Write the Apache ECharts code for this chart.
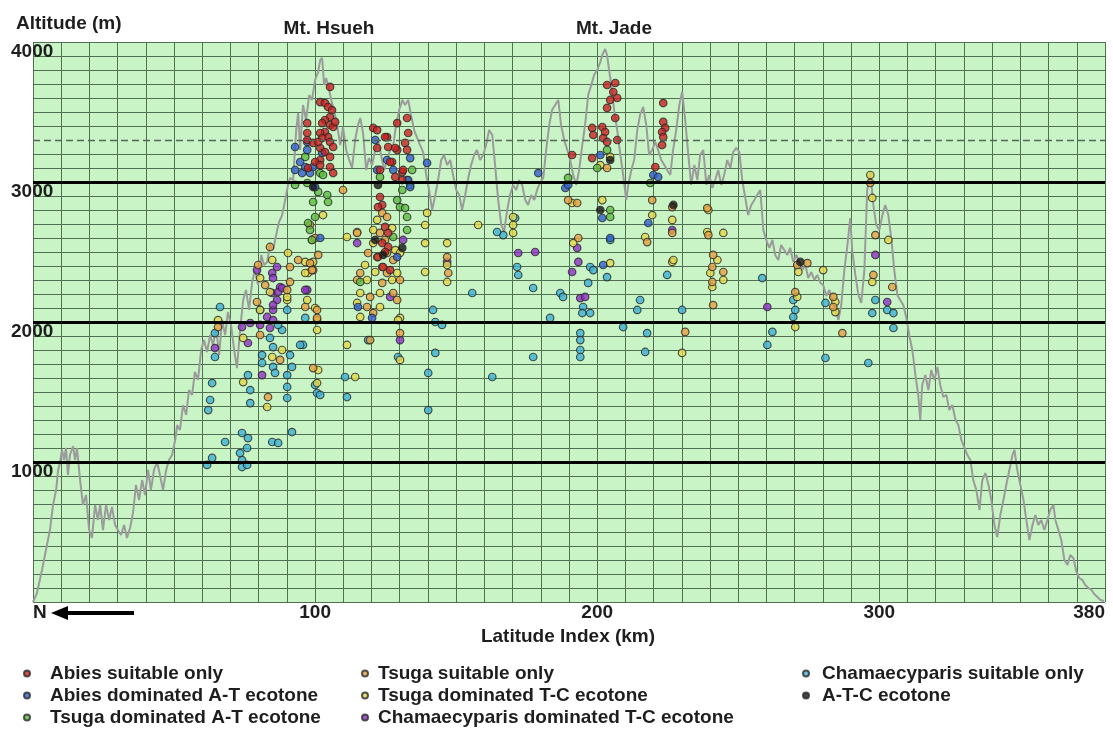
<!DOCTYPE html>
<html>
<head>
<meta charset="utf-8">
<script src="https://cdn.jsdelivr.net/npm/echarts@6/dist/echarts.min.js"></script>
<style>
  html, body { margin: 0; padding: 0; background: #ffffff; }
  #chart { width: 1113px; height: 742px; }
</style>
</head>
<body>
<div id="chart"></div>
<script>
// Ridge-line elevation profile, north (0 km) to south (380 km)
const profileKm = [
  0,1.4,3.2,4.6,6.0,7.1,8.2,8.9,9.6,10.3,11.0,11.7,12.4,13.1,14.2,14.9,15.6,16.7,17.7,18.8,19.9,20.9,22.0,23.0,23.8,24.8,25.9,27.0,28.0,29.1,
  30.1,31.2,32.3,33.3,34.4,35.5,36.5,37.6,38.7,39.7,40.8,41.8,42.9,44.0,45.0,46.1,47.2,48.2,49.3,50.4,51.1,52.1,53.2,54.3,55.3,56.4,57.4,58.5,59.6,60.6,
  61.7,62.8,63.8,64.9,66.0,67.0,68.1,69.1,70.2,71.3,72.3,73.4,74.5,75.5,76.6,77.7,78.7,79.8,80.9,81.9,83.0,84.0,85.1,86.2,87.2,88.3,89.4,90.4,91.1,92.2,
  93.3,94.0,94.7,95.7,96.8,97.9,98.9,100.0,101.1,101.8,102.5,103.2,103.9,105.0,105.7,106.7,107.8,108.9,109.9,111.0,112.1,113.1,114.2,115.2,116.0,117.0,118.1,119.1,120.2,121.3,
  122.3,123.4,124.5,125.5,126.6,127.7,128.7,129.8,130.9,131.9,133.0,134.0,135.1,136.2,137.2,138.3,139.4,140.4,141.5,142.6,143.6,144.7,145.7,146.8,147.9,148.9,150.0,151.1,152.1,153.2,
  154.3,155.3,156.4,157.4,158.5,159.6,160.6,161.7,162.8,163.8,164.9,166.0,167.0,168.1,169.1,170.2,171.3,172.3,173.4,174.5,175.5,176.6,177.7,178.7,179.8,180.9,181.9,183.0,184.0,185.1,
  186.2,187.2,188.3,189.4,190.4,191.5,192.6,193.6,194.7,195.7,196.8,197.9,198.9,200.0,201.1,201.8,202.8,203.5,204.3,205.0,206.0,207.1,208.2,209.2,210.3,211.0,212.1,213.1,214.2,215.2,
  216.3,217.4,218.4,219.5,220.6,221.6,222.7,223.8,224.8,225.9,226.9,228.0,229.1,230.1,231.2,232.3,233.3,234.4,235.5,236.5,237.6,238.7,239.7,240.8,241.8,242.9,244.0,245.0,246.1,247.2,
  248.2,249.3,250.4,251.4,252.5,253.5,254.6,255.7,256.7,257.8,258.9,259.9,261.0,262.1,263.1,264.2,265.2,266.3,267.4,268.4,269.5,270.6,271.6,272.7,273.8,274.8,275.9,277.0,278.0,279.1,
  280.1,281.2,282.3,283.3,284.4,285.5,286.5,287.6,288.7,289.7,290.4,291.5,292.6,293.6,294.7,295.7,296.8,297.9,298.9,300.0,301.1,302.1,303.2,304.3,305.3,306.4,307.4,308.5,309.6,310.6,
  311.7,312.8,313.8,314.5,315.2,316.3,317.4,318.4,319.5,320.6,321.6,322.7,323.8,324.8,325.9,327.0,328.0,329.1,330.1,331.2,332.3,333.3,334.4,335.5,336.5,337.6,338.7,339.7,340.8,341.8,
  342.9,344.0,345.0,346.1,347.2,347.9,348.9,350.0,351.1,352.1,353.2,354.3,355.3,356.4,357.4,358.5,359.6,360.6,361.7,362.4,363.5,364.5,365.6,366.7,367.7,368.8,369.9,370.9,372.0,373.0,
  374.1,375.2,376.2,377.3,378.4,379.6
];
const profileAlt = [
  0,64,229,371,514,693,800,943,1000,1086,1014,1100,907,1050,1114,1014,1100,871,693,764,514,457,693,586,693,514,693,586,679,550,
  514,479,550,457,529,643,836,729,871,764,943,800,943,1000,907,800,943,1014,1050,1157,1264,1229,1407,1336,1514,1479,1643,1586,1800,1871,
  1786,1907,1836,1957,1764,2014,1907,2071,1979,1800,1671,1943,2157,2229,2086,2286,2371,2264,2479,2407,2429,2550,2514,2621,2714,2764,2871,2979,3029,3014,
  3371,3493,3229,3550,3443,3621,3586,3729,3786,3871,3886,3693,3743,3657,3586,3514,3407,3264,3393,3229,3157,3100,3300,3407,3457,3350,3086,3171,3121,3229,
  3300,3193,3086,3157,3229,3264,3407,3514,3586,3550,3586,3479,3371,3314,3264,3214,3050,2943,2800,2907,3014,3157,3193,3121,3157,3050,2943,2907,2800,2907,
  3029,3121,3193,3229,3157,3193,3264,3371,3336,3121,2871,2693,2643,2800,2907,2979,2943,3014,2979,2871,2836,2907,2871,2943,3000,3029,3229,3407,3514,3550,
  3586,3407,3300,3229,3157,3050,2979,3086,3264,3407,3621,3693,3764,3800,3857,3907,3950,3907,3786,3693,3514,3371,3193,3050,2871,2979,3086,3157,3371,3479,
  3536,3407,3193,3229,3286,3229,3157,3121,3086,3050,3229,3371,3550,3643,3443,3193,2979,3121,3014,3193,3229,2979,3050,2957,3014,3086,2979,3050,3157,3100,
  3214,3243,3214,3014,2886,2764,2836,2871,2907,2943,2657,2586,2529,2586,2479,2443,2550,2514,2479,2529,2429,2479,2429,2371,2407,2314,2357,2300,2336,2279,
  2264,2186,2229,2157,2086,2014,2121,2371,2550,2743,2514,2336,2193,2136,2371,2943,3071,2836,2693,2657,2764,2836,2764,2586,2371,2193,2157,2121,2029,1907,
  1800,1621,1479,1300,1550,1621,1514,1657,1586,1679,1550,1464,1479,1371,1407,1300,1264,1157,1107,1050,1014,871,800,657,871,921,836,729,550,464,
  621,729,836,943,1050,1086,943,836,729,586,443,550,621,550,586,514,586,657,693,586,514,443,300,264,336,314,214,171,157,121,
  100,86,57,36,14,7
];

// Sample sites by vegetation class: [latitude index (km), altitude (m)]
const abiesOnly = [
  [105.3,3679],[101.8,3571],[103.5,3564],[104.6,3536],[106.0,3514],[105.3,3464],[103.5,3443],[102.5,3421],[105.3,3407],[106.4,3393],
  [103.5,3357],[101.8,3350],[104.6,3321],[102.5,3314],[97.2,3421],[97.2,3350],[97.2,3300],[99.3,3279],[105.3,3286],[106.4,3250],
  [101.8,3243],[103.5,3214],[105.3,3179],[101.8,3157],[100.0,3143],[105.3,3107],[106.4,3064],[101.8,3121],[97.5,3100],[101.1,3286],[107.1,3429],
  [120.6,3386],[122.0,3371],[125.5,3321],[122.0,3243],[129.1,3421],[132.6,3457],[133.0,3350],[131.9,3279],[129.1,3229],[127.3,3143],
  [130.9,3071],[124.8,3321],[125.9,3250],[128.4,3243],[132.6,3229],[126.6,3143],[131.2,3086],[123.0,3086],[128.4,3036],[130.9,3014],
  [123.0,2893],[123.8,2836],[122.3,2821],[124.8,2679],[125.9,2636],[123.8,2564],[125.9,2536],[122.3,2464],[124.1,2393],[126.6,2371],[124.8,2500],
  [203.5,3693],[206.4,3707],[205.7,3643],[207.1,3600],[206.4,3457],[203.5,3529],[198.2,3386],[198.6,3336],[201.8,3393],[202.8,3357],
  [202.1,3314],[203.5,3286],[207.1,3300],[191.1,3193],[198.2,3171],[204.6,3586],
  [223.4,3564],[223.4,3429],[224.1,3386],[223.0,3357],[223.4,3321],[223.0,3264],[220.6,3107]
];
const abiesDomAT = [
  [92.9,3250],[102.5,3207],[99.3,3107],[98.2,3064],[92.9,3086],[95.4,3064],[121.3,3300],[122.0,3086],[94.7,3143],[97.2,3286],
  [97.2,3229],[125.5,3157],[127.7,3086],[133.7,3171],[139.7,3136],[100.0,2964],[133.0,3014],[133.7,2964],[96.5,3107],
  [179.1,3064],[201.1,3193],[188.7,2957],[189.7,2979],[219.9,3050],[221.6,3036],[201.8,2743],[218.1,2707],[204.6,2600],[202.1,2407],
  [101.8,2600],[129.1,2464],[115.2,2107],[120.2,2029]
];
const tsugaDomAT = [
  [96.5,3179],[101.8,3064],[92.9,2979],[97.2,2993],[102.8,3050],[101.1,2929],[104.3,2907],[104.6,2857],[123.0,3036],[130.9,2943],
  [132.6,3014],[129.1,2871],[130.1,2821],[97.5,2707],[100.0,2750],[98.2,2657],[132.6,2750],[132.6,2657],[127.7,2607],[98.9,2586],
  [131.9,2814],[133.7,2979],[134.4,3086],[116.0,2286],[203.5,3229],[189.7,3029],[218.8,2993],[204.6,2800],[204.6,2750],[200.0,3100],[99.3,2857]
];
const tsugaOnly = [
  [84.0,2536],[79.8,2407],[82.3,2264],[79.4,2143],[90.1,2229],[91.1,2393],[94.0,2443],[98.2,2421],[99.3,2371],[98.2,2693],
  [100.7,2029],[87.6,1729],[80.5,1907],[65.6,1964],[83.3,1464],[99.3,1671],[96.5,2107],
  [123.8,2779],[125.5,2750],[123.0,2636],[124.8,2586],[118.8,2493],[125.5,2493],[127.7,2443],[123.8,2393],[116.0,2350],[125.5,2350],
  [114.9,2300],[123.8,2279],[130.1,2300],[119.5,2179],[127.7,2207],[118.4,2107],[129.1,2157],[120.6,2064],[114.9,2636],[109.9,2943],
  [100.0,2600],[101.1,2479],[98.9,2371],[91.1,2286],[100.7,2086],[146.8,2464],[147.2,2350],[119.5,1871],[130.1,1921],
  [189.7,2871],[192.9,2850],[193.3,2600],[219.5,2871],[226.6,2821],[226.6,2636],[217.7,2571],[239.0,2814],[239.4,2621],[241.1,2479],
  [240.8,2393],[244.7,2357],[240.8,2286],[241.1,2121],[231.2,1929],[270.9,2407],[274.5,2421],[270.2,2214],[283.7,2179],[283.7,2107],
  [286.9,1921],[296.8,2993],[298.6,2621],[297.9,2336],[304.6,2250],[203.5,3100]
];
const tsugaDomTC = [
  [84.8,2443],[80.5,2314],[84.0,2214],[80.5,2086],[90.1,2157],[90.4,2493],[96.5,2429],[97.5,2350],[98.9,2586],[100.0,2100],
  [88.3,1800],[74.5,1886],[65.6,2014],[74.5,1571],[83.0,1393],[100.7,1564],[84.8,1750],
  [122.0,2729],[120.6,2657],[127.3,2671],[120.6,2564],[122.0,2464],[128.4,2514],[130.1,2493],[117.7,2407],[121.3,2357],[129.1,2350],
  [118.4,2300],[127.3,2300],[116.0,2207],[123.0,2207],[114.9,2136],[123.0,2107],[116.0,2036],[130.1,2029],[111.3,2607],[102.8,2764],
  [99.3,2429],[90.1,2179],[100.7,2014],[97.2,2157],[146.8,2407],[146.8,2286],[101.1,1657],[130.1,1729],
  [139.7,2779],[139.0,2693],[139.0,2564],[139.0,2357],[146.8,2564],[157.8,2693],[170.2,2750],[170.2,2693],[170.2,2636],[114.9,2643],
  [96.5,2350],[100.7,1943],[129.4,2014],[111.3,1836],[114.2,1607],
  [191.1,2850],[201.8,2871],[191.5,2564],[219.5,2764],[226.6,2729],[217.0,2607],[226.6,2429],[204.6,2421],[239.0,2643],[244.7,2636],
  [242.6,2443],[240.1,2350],[244.7,2300],[240.8,2250],[230.1,1779],[271.3,2357],[280.1,2371],[270.9,2179],[284.4,2143],[284.4,2071],
  [296.8,3050],[297.5,2886],[303.2,2586],[297.5,2286],[270.2,1964],[201.1,3121],[204.6,3179],[227.0,2443],[239.4,2800]
];
const chamDomTC = [
  [131.2,2586],[79.4,2371],[84.8,2350],[87.6,2250],[84.8,2207],[86.5,2157],[85.1,2086],[83.0,2036],[74.1,1964],[97.2,2229],
  [126.6,2179],[114.9,2564],[64.5,1814],[76.2,1850],[85.1,2314],[86.5,2393],[86.9,2214],[88.3,2243],[85.1,2121],[85.1,2014],
  [84.0,1957],[80.5,1979],[81.2,1621],[96.5,2229],[77.0,1993],[146.8,2429],[130.1,1871],
  [172.0,2493],[178.0,2500],[192.9,2529],[193.3,2429],[191.1,2357],[194.0,2171],[195.7,2179],[226.6,2657],[260.3,2107],
  [298.6,2479],[302.8,2143]
];
const chamOnly = [
  [66.3,2107],[64.5,1921],[64.5,1750],[63.5,1564],[62.8,1443],[62.1,1371],[68.1,1143],[74.1,1207],[76.2,1171],[73.4,1064],
  [74.1,1014],[74.1,964],[61.7,979],[63.5,1029],[84.8,1143],[86.9,1136],[91.8,1214],[81.2,1764],[81.2,1707],[85.1,1679],
  [85.8,1636],[85.1,1821],[84.0,1886],[76.2,1621],[77.0,1514],[77.0,1421],[90.1,1621],[90.1,1536],[90.1,1457],[91.8,1679],
  [95.7,1836],[80.5,2086],[90.1,2086],[88.3,1943],[91.1,1764],[96.5,2029],[100.7,1493],[75.9,1100],[75.9,979],[86.9,1979],
  [141.8,2086],[142.6,2000],[155.7,2207],[142.6,1779],[140.1,1636],[140.1,1371],[162.8,1607],[110.6,1607],[101.8,1479],[100.0,1550],
  [111.3,1464],[94.7,1836],[118.8,1871],[129.4,1750],[166.7,2621],[164.5,2643],[171.6,2393],[172.0,2336],[170.9,2743],[145.0,1979],
  [177.3,2243],[183.3,2029],[186.9,2207],[187.9,2179],[197.5,2393],[198.6,2371],[196.8,2279],[195.0,2107],[194.7,2064],[197.5,2064],
  [204.6,2586],[203.5,2321],[194.0,1921],[194.0,1871],[194.0,1800],[194.0,1750],[209.2,1964],[215.2,2157],[214.2,2086],[217.7,1921],
  [217.0,1786],[224.8,2336],[230.1,2086],[258.5,2314],[262.1,1929],[260.3,1836],[269.5,2157],[269.5,2036],[177.3,1750],[270.2,2086],
  [280.9,2136],[298.6,2157],[297.5,2064],[302.8,2086],[305.0,2064],[305.0,1957],[280.9,1743],[296.1,1707]
];
const atcEcotone = [
  [124.1,2479],[121.3,2586],[130.9,2529],[122.3,2979],[204.6,3157],[201.1,2800],[227.0,2836],[272.0,2429],[99.3,2964]
];

// Axis tick labels shown on the frame
const xTickLabels = { 0: 'N', 100: '100', 200: '200', 300: '300', 380: '380' };
const yTickLabels = [1000, 2000, 3000, 4000];
const altitudeBands = [1000, 2000, 3000];

const FONT = 'Liberation Sans, Arial, sans-serif';
const GRID_COLOR = '#4f7051';

const chart = echarts.init(document.getElementById('chart'), null, { renderer: 'canvas' });

// horizontal grid: one line every 100 m, the 3300 m line is drawn dashed instead
const yGridColors = Array.from({ length: 41 }, (_, i) => (i === 33 ? 'rgba(0,0,0,0)' : GRID_COLOR));

function scatterSeries(name, data, color) {
  return {
    name: name,
    type: 'scatter',
    data: data,
    symbol: 'circle',
    symbolSize: 7.5,
    z: 3,
    itemStyle: { color: color, borderColor: '#2b2b2b', borderWidth: 1.2 },
    emphasis: { disabled: true }
  };
}

const legendText = { fontFamily: FONT, fontSize: 19, fontWeight: 'bold', color: '#1e1e1e', lineHeight: 19 };

const option = {
  animation: false,
  backgroundColor: '#ffffff',
  title: [
    { text: 'Altitude (m)', left: 11, top: 9, textStyle: { fontFamily: FONT, fontSize: 19, fontWeight: 'bold', color: '#1e1e1e' } },
    { text: 'Mt. Hsueh', left: 324, top: 14, textAlign: 'center', textStyle: { fontFamily: FONT, fontSize: 19, fontWeight: 'bold', color: '#1e1e1e' } },
    { text: 'Mt. Jade', left: 609, top: 14, textAlign: 'center', textStyle: { fontFamily: FONT, fontSize: 19, fontWeight: 'bold', color: '#1e1e1e' } },
    { text: 'Latitude Index (km)', left: 563, top: 622, textAlign: 'center', textStyle: { fontFamily: FONT, fontSize: 19, fontWeight: 'bold', color: '#1e1e1e' } }
  ],
  grid: {
    left: 33, right: 8, top: 42, bottom: 140,
    show: true, backgroundColor: '#c9f4c5', borderWidth: 0
  },
  xAxis: {
    type: 'value', min: 0, max: 380, interval: 10,
    axisLine: { show: false }, axisTick: { show: false },
    splitLine: { show: true, lineStyle: { color: GRID_COLOR, width: 1 } },
    axisLabel: {
      margin: 1,
      fontFamily: FONT, fontSize: 19, fontWeight: 'bold', color: '#1e1e1e',
      alignMinLabel: 'left', alignMaxLabel: 'right',
      formatter: v => (xTickLabels[v] !== undefined ? xTickLabels[v] : '')
    }
  },
  yAxis: {
    type: 'value', min: 0, max: 4000, interval: 100,
    axisLine: { show: false }, axisTick: { show: false },
    splitLine: { show: true, lineStyle: { color: yGridColors, width: 1 } },
    axisLabel: {
      align: 'left', verticalAlign: 'top', lineHeight: 19, margin: 22,
      fontFamily: FONT, fontSize: 19, fontWeight: 'bold', color: '#1e1e1e',
      formatter: v => (yTickLabels.indexOf(v) >= 0 ? String(v) : '')
    }
  },
  legend: [
    {
      orient: 'vertical', left: 18, top: 659, itemWidth: 6, itemHeight: 6, itemGap: 3, icon: 'circle',
      textStyle: Object.assign({ padding: [0, 0, 0, 15] }, legendText),
      data: ['Abies suitable only', 'Abies dominated A-T ecotone', 'Tsuga dominated A-T ecotone']
    },
    {
      orient: 'vertical', left: 356, top: 659, itemWidth: 6, itemHeight: 6, itemGap: 3, icon: 'circle',
      textStyle: Object.assign({ padding: [0, 0, 0, 5] }, legendText),
      data: ['Tsuga suitable only', 'Tsuga dominated T-C ecotone', 'Chamaecyparis dominated T-C ecotone']
    },
    {
      orient: 'vertical', left: 797, top: 659, itemWidth: 6, itemHeight: 6, itemGap: 3, icon: 'circle',
      textStyle: Object.assign({ padding: [0, 0, 0, 8] }, legendText),
      data: ['Chamaecyparis suitable only', 'A-T-C ecotone']
    }
  ],
  graphic: [
    // north arrow beside the "N" tick label
    { type: 'line', shape: { x1: 64, y1: 613, x2: 134, y2: 613 }, style: { stroke: '#000', lineWidth: 4 }, z: 10 },
    { type: 'polygon', shape: { points: [[51, 613], [68, 606], [68, 620]] }, style: { fill: '#000' }, z: 10 }
  ],
  series: [
    {
      name: 'Ridge profile',
      type: 'line',
      data: profileKm.map((k, i) => [k, profileAlt[i]]),
      showSymbol: false,
      z: 2,
      lineStyle: { color: '#9b9b9b', width: 2 },
      emphasis: { disabled: true },
      markLine: {
        silent: true,
        symbol: ['none', 'none'],
        label: { show: false },
        lineStyle: { color: '#000000', width: 3, type: 'solid' },
        data: altitudeBands.map(a => ({ yAxis: a })).concat([
          { yAxis: 3300, lineStyle: { color: '#56655a', width: 1.3, type: [7, 4] } }
        ])
      }
    },
    scatterSeries('Chamaecyparis suitable only', chamOnly, '#3cb2d6'),
    scatterSeries('Chamaecyparis dominated T-C ecotone', chamDomTC, '#8f2fc6'),
    scatterSeries('Tsuga dominated T-C ecotone', tsugaDomTC, '#e3d84a'),
    scatterSeries('Tsuga suitable only', tsugaOnly, '#e6a03e'),
    scatterSeries('Tsuga dominated A-T ecotone', tsugaDomAT, '#5cbd3e'),
    scatterSeries('Abies dominated A-T ecotone', abiesDomAT, '#2f5fcf'),
    scatterSeries('Abies suitable only', abiesOnly, '#c9211f'),
    scatterSeries('A-T-C ecotone', atcEcotone, '#151515')
  ]
};

chart.setOption(option);
</script>
</body>
</html>
